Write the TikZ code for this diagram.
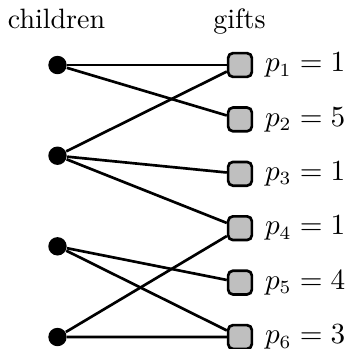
\documentclass[tikz,border=0pt]{standalone}
\begin{document}
\begin{tikzpicture}[x=0.375pt,y=-0.375pt,
  font=\fontsize{10.5}{12.6}\selectfont,
  child/.style={circle,fill=black,inner sep=0pt,minimum size=6.9pt},
  gift/.style={rectangle,rounded corners=1.8pt,draw=black,line width=1pt,fill=black!25,inner sep=0pt,minimum size=8.9pt},
  lbl/.style={anchor=base west,inner sep=0pt},
  edge/.style={line width=1pt}]
\useasboundingbox (0,0) rectangle (348,349);
\node[anchor=base,inner sep=0pt] (hc) at (56.5,28) {children};
\node[anchor=base,inner sep=0pt] (hg) at (239.5,28) {gifts};
\foreach \i/\y in {1/65,2/155.7,3/246.3,4/337}{
  \node[child] (c\i) at (57.5,\y) {};
}
\foreach \i/\v in {1/1,2/5,3/1,4/1,5/4,6/3}{
  \pgfmathsetmacro{\yy}{65+54.4*(\i-1)}
  \node[gift] (g\i) at (240,\yy) {};
  \node[lbl] (l\i) at (264.5,\yy+6.7) {$p_{\i}=\v$};
}
\draw[edge] (c1) -- (g1);
\draw[edge] (c1) -- (g2);
\draw[edge] (c2) -- (g1);
\draw[edge] (c2) -- (g3);
\draw[edge] (c2) -- (g4);
\draw[edge] (c3) -- (g5);
\draw[edge] (c3) -- (g6);
\draw[edge] (c4) -- (g4);
\draw[edge] (c4) -- (g6);
\end{tikzpicture}
\end{document}
